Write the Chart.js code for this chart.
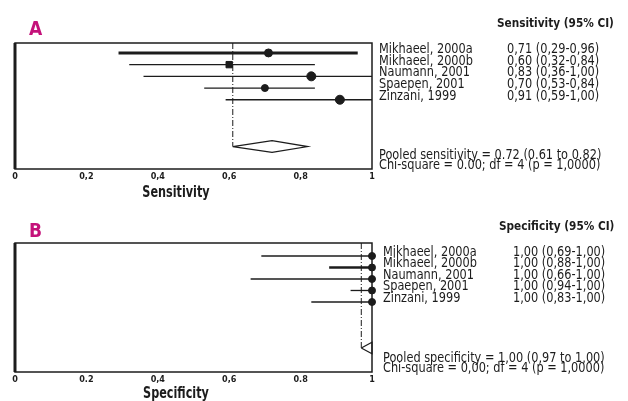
<!DOCTYPE html>
<html>
<head>
<meta charset="utf-8">
<script src="https://cdn.jsdelivr.net/npm/chart.js@4.4.1/dist/chart.umd.min.js"></script>
<style>
  body { margin: 0; background: #fff; width: 628px; height: 401px; overflow: hidden; }
  canvas { position: absolute; left: 0; }
</style>
</head>
<body>
<canvas id="chartA" width="628" height="200" style="top:0"></canvas>
<canvas id="chartB" width="628" height="201" style="top:200px"></canvas>
<script>
const studies = ['Mikhaeel, 2000a', 'Mikhaeel, 2000b', 'Naumann, 2001', 'Spaepen, 2001', 'Zinzani, 1999'];

const sensEst = [0.71, 0.60, 0.83, 0.70, 0.91];
const sensLow = [0.29, 0.32, 0.36, 0.53, 0.59];
const sensHigh = [0.96, 0.84, 1.00, 0.84, 1.00];
const sensPooled = [0.72, 0.61, 0.82];
const sensText = ['0,71 (0,29-0,96)', '0,60 (0,32-0,84)', '0,83 (0,36-1,00)', '0,70 (0,53-0,84)', '0,91 (0,59-1,00)'];
const sensTicks = ['0', '0,2', '0,4', '0,6', '0,8', '1'];

const specEst = [1.00, 1.00, 1.00, 1.00, 1.00];
const specLow = [0.69, 0.88, 0.66, 0.94, 0.83];
const specHigh = [1.00, 1.00, 1.00, 1.00, 1.00];
const specPooled = [1.00, 0.97, 1.00];
const specText = ['1,00 (0,69-1,00)', '1,00 (0,88-1,00)', '1,00 (0,66-1,00)', '1,00 (0,94-1,00)', '1,00 (0,83-1,00)'];
const specTicks = ['0', '0.2', '0,4', '0,6', '0.8', '1'];

const INK = '#1c1c1c';
const NARROW = '"Liberation Sans Narrow", "DejaVu Sans Condensed", sans-serif';

// squeeze text horizontally, the original uses a condensed face
function narrowText(ctx, text, x, y, sx, align) {
    ctx.save();
    ctx.translate(x, y);
    ctx.scale(sx, 1);
    ctx.textAlign = align || 'left';
    ctx.fillText(text, 0, 0);
    ctx.restore();
}

function forest(id, o) {
    const ctx = document.getElementById(id).getContext('2d');
    const pooledRow = 9;

    // one line per study CI
    const ciSets = o.est.map((e, i) => ({
        type: 'line',
        data: [{ x: o.low[i], y: i + 1 }, { x: o.high[i], y: i + 1 }],
        borderColor: INK,
        borderWidth: o.thick[i],
        pointRadius: 0,
        clip: false,
    }));

    const [pEst, pLow, pHigh] = o.pooled;
    const half = 0.5;

    new Chart(ctx, {
        type: 'scatter',
        data: {
            datasets: [
                ...ciSets,
                {
                    type: 'line',
                    data: [{ x: pLow, y: o.yMin }, { x: pLow, y: pooledRow }],
                    borderColor: INK,
                    borderWidth: 1,
                    borderDash: [6, 2, 1, 2],
                    pointRadius: 0,
                },
                {
                    type: 'line',
                    data: [
                        { x: pLow, y: pooledRow },
                        { x: pEst, y: pooledRow - half },
                        { x: pHigh, y: pooledRow },
                        { x: pEst, y: pooledRow + half },
                        { x: pLow, y: pooledRow },
                    ],
                    borderColor: INK,
                    borderWidth: 1.2,
                    pointRadius: 0,
                    clip: false,
                },
                {
                    data: o.est.map((e, i) => ({ x: e, y: i + 1 })),
                    backgroundColor: INK,
                    borderColor: INK,
                    pointStyle: o.styles,
                    pointRadius: o.radius,
                    clip: false,
                },
            ],
        },
        options: {
            responsive: false,
            animation: false,
            layout: { padding: { left: 15, right: 256, top: 43, bottom: 0 } },
            plugins: { legend: { display: false }, tooltip: { enabled: false } },
            scales: {
                x: {
                    type: 'linear',
                    min: 0,
                    max: 1,
                    grid: { display: false, drawTicks: false },
                    border: { display: false },
                    afterFit: (s) => { s.height = o.axisH; },
                    ticks: {
                        stepSize: 0.2,
                        autoSkip: false,
                        maxRotation: 0,
                        padding: 2,
                        color: INK,
                        font: { family: NARROW, size: 9, weight: 'bold' },
                        callback: (v, i) => o.ticks[i],
                    },
                },
                y: {
                    type: 'linear',
                    display: false,
                    reverse: true,
                    min: o.yMin,
                    max: o.yMax,
                },
            },
        },
        plugins: [{
            id: 'decor',
            afterDraw(chart) {
                const { ctx, chartArea: a, scales: { y } } = chart;
                ctx.save();
                ctx.strokeStyle = INK;
                ctx.lineWidth = 1.5;
                ctx.strokeRect(a.left, a.top, a.right - a.left, a.bottom - a.top);
                ctx.lineWidth = 3;
                ctx.beginPath();
                ctx.moveTo(a.left, a.top);
                ctx.lineTo(a.left, a.bottom);
                ctx.stroke();

                ctx.fillStyle = INK;
                ctx.textBaseline = 'alphabetic';
                ctx.font = '14px ' + NARROW;
                studies.forEach((s, i) => {
                    const py = y.getPixelForValue(i + 1);
                    narrowText(ctx, s, o.labelX, py, 0.9);
                    narrowText(ctx, o.ciText[i], o.ciX, py, 0.9);
                });
                narrowText(ctx, o.pooledText[0], o.labelX, a.bottom - 10, 0.9);
                narrowText(ctx, o.pooledText[1], o.labelX, a.bottom, 0.9);

                ctx.font = 'bold 13px ' + NARROW;
                narrowText(ctx, o.header, o.headerX, o.headerY, 0.9);

                ctx.font = 'bold 16px ' + NARROW;
                narrowText(ctx, o.title, 176, chart.height - 3, 0.78, 'center');

                ctx.fillStyle = '#c4127a';
                ctx.font = 'bold 20px ' + NARROW;
                narrowText(ctx, o.letter, 29, o.letterY, 0.95);
                ctx.restore();
            },
        }],
    });
}

forest('chartA', {
    est: sensEst, low: sensLow, high: sensHigh, pooled: sensPooled,
    thick: [3, 1.3, 1.3, 1.3, 1.3],
    styles: ['circle', 'rect', 'circle', 'circle', 'circle'],
    radius: [4, 4.5, 4.5, 3.5, 4.5],
    ticks: sensTicks, ciText: sensText,
    pooledText: ['Pooled sensitivity = 0.72 (0.61 to 0.82)', 'Chi-square = 0.00; df = 4 (p = 1,0000)'],
    header: 'Sensitivity (95% CI)', headerX: 497, headerY: 27,
    title: 'Sensitivity', letter: 'A', letterY: 35,
    labelX: 379, ciX: 507,
    yMin: 0.15, yMax: 10.92, axisH: 31,
});

forest('chartB', {
    est: specEst, low: specLow, high: specHigh, pooled: specPooled,
    thick: [1.3, 2.5, 1.3, 1.3, 1.3],
    styles: ['circle', 'circle', 'circle', 'circle', 'circle'],
    radius: [3.5, 3.5, 3.5, 3.5, 3.5],
    ticks: specTicks, ciText: specText,
    pooledText: ['Pooled specificity = 1,00 (0,97 to 1,00)', 'Chi-square = 0,00; df = 4 (p = 1,0000)'],
    header: 'Specificity (95% CI)', headerX: 499, headerY: 30,
    title: 'Specificity', letter: 'B', letterY: 37,
    labelX: 383, ciX: 513,
    yMin: -0.13, yMax: 11.09, axisH: 29,
});
</script>
</body>
</html>
